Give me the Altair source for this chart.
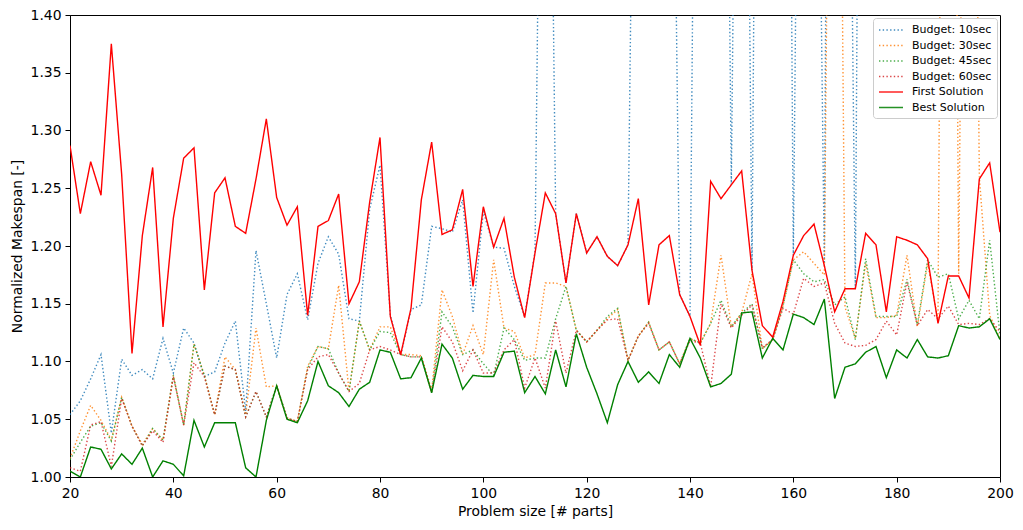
import altair as alt
import pandas as pd

sizes = list(range(20, 201, 2))

budget_10 = [
    1.054, 1.066, 1.085, 1.106, 1.038, 1.102, 1.088, 1.093, 1.085, 1.120,
    1.090, 1.129, 1.116, 1.087, 1.091, 1.116, 1.135, 1.057, 1.196, 1.150,
    1.103, 1.158, 1.176, 1.136, 1.185, 1.208, 1.193, 1.137, 1.135, 1.232,
    1.270, 1.140, 1.105, 1.145, 1.149, 1.217, 1.215, 1.212, 1.240, 1.142,
    1.230, 1.199, 1.198, 1.165, 1.139, 1.195, 2.000, 1.228, 1.168, 1.228,
    1.194, 1.208, 1.191, 1.183, 1.201, 1.970, 2.300, 2.300, 1.910, 1.158,
    1.139, 2.200, 2.400, 2.170, 1.253, 2.170, 1.179, 2.500, 2.600, 2.500,
    1.192, 2.140, 1.930, 1.183, 2.900, 2.000, 1.163, 2.600, 2.500, 2.700,
    2.500, 2.300, 2.600, 2.800, 2.400, 2.500, 2.700, 2.600, 2.400, 2.500,
    2.600,
]
budget_30 = [
    1.016, 1.040, 1.062, 1.049, 1.032, 1.069, 1.044, 1.028, 1.042, 1.032,
    1.088, 1.045, 1.115, 1.088, 1.054, 1.104, 1.093, 1.054, 1.129, 1.078,
    1.079, 1.051, 1.048, 1.096, 1.113, 1.111, 1.166, 1.074, 1.135, 1.110,
    1.130, 1.130, 1.106, 1.106, 1.105, 1.075, 1.162, 1.139, 1.106, 1.131,
    1.106, 1.188, 1.129, 1.126, 1.103, 1.106, 1.168, 1.168, 1.165, 1.127,
    1.117, 1.127, 1.137, 1.145, 1.101, 1.122, 1.134, 1.110, 1.117, 1.098,
    1.120, 1.116, 1.133, 1.192, 1.130, 1.142, 1.176, 1.111, 1.119, 1.148,
    1.188, 1.195, 1.185, 1.175, 2.200, 1.147, 1.120, 1.185, 1.138, 1.138,
    1.140, 1.192, 1.130, 1.185, 1.136, 2.600, 1.176, 2.200, 1.260, 1.140,
    1.120,
]
budget_45 = [
    1.015, 1.030, 1.044, 1.047, 1.031, 1.069, 1.044, 1.027, 1.042, 1.032,
    1.088, 1.045, 1.115, 1.088, 1.054, 1.096, 1.093, 1.052, 1.074, 1.052,
    1.079, 1.051, 1.048, 1.094, 1.113, 1.111, 1.090, 1.074, 1.135, 1.110,
    1.126, 1.125, 1.106, 1.104, 1.104, 1.073, 1.143, 1.130, 1.106, 1.110,
    1.098, 1.088, 1.129, 1.119, 1.101, 1.103, 1.103, 1.137, 1.165, 1.127,
    1.117, 1.127, 1.139, 1.146, 1.101, 1.122, 1.134, 1.110, 1.117, 1.098,
    1.120, 1.116, 1.133, 1.153, 1.130, 1.142, 1.150, 1.111, 1.119, 1.148,
    1.188, 1.176, 1.169, 1.171, 1.149, 1.156, 1.119, 1.189, 1.139, 1.139,
    1.139, 1.171, 1.132, 1.188, 1.173, 1.176, 1.137, 1.153, 1.137, 1.205,
    1.123,
]
budget_60 = [
    1.008, 1.005, 1.045, 1.048, 1.009, 1.068, 1.044, 1.027, 1.040, 1.030,
    1.087, 1.045, 1.099, 1.087, 1.054, 1.096, 1.093, 1.052, 1.074, 1.052,
    1.079, 1.051, 1.048, 1.093, 1.104, 1.106, 1.090, 1.074, 1.081, 1.110,
    1.113, 1.110, 1.106, 1.104, 1.104, 1.073, 1.130, 1.117, 1.092, 1.110,
    1.090, 1.090, 1.110, 1.119, 1.077, 1.103, 1.077, 1.135, 1.090, 1.127,
    1.117, 1.127, 1.136, 1.137, 1.101, 1.122, 1.133, 1.110, 1.117, 1.098,
    1.118, 1.116, 1.078, 1.150, 1.129, 1.140, 1.149, 1.112, 1.119, 1.146,
    1.141, 1.172, 1.165, 1.168, 1.133, 1.116, 1.113, 1.114, 1.119, 1.135,
    1.123, 1.169, 1.131, 1.145, 1.137, 1.148, 1.132, 1.133, 1.132, 1.137,
    1.126,
]
first_solution = [
    1.287, 1.228, 1.273, 1.244, 1.375, 1.262, 1.107, 1.209, 1.268, 1.130,
    1.224, 1.276, 1.285, 1.162, 1.246, 1.259, 1.217, 1.211, 1.258, 1.310,
    1.242, 1.218, 1.234, 1.140, 1.217, 1.222, 1.245, 1.150, 1.169, 1.238,
    1.294, 1.139, 1.106, 1.146, 1.240, 1.290, 1.210, 1.214, 1.249, 1.165,
    1.234, 1.199, 1.224, 1.173, 1.138, 1.194, 1.246, 1.228, 1.168, 1.228,
    1.194, 1.208, 1.191, 1.183, 1.201, 1.241, 1.149, 1.201, 1.209, 1.158,
    1.139, 1.114, 1.256, 1.241, 1.253, 1.265, 1.179, 1.131, 1.121, 1.152,
    1.192, 1.209, 1.219, 1.183, 1.143, 1.163, 1.163, 1.211, 1.201, 1.143,
    1.208, 1.205, 1.201, 1.189, 1.133, 1.174, 1.174, 1.155, 1.258, 1.272,
    1.212,
]
best_solution = [
    1.005, 1.000, 1.026, 1.024, 1.007, 1.020, 1.011, 1.025, 1.000, 1.014,
    1.011, 1.001, 1.049, 1.026, 1.047, 1.047, 1.047, 1.008, 1.000, 1.049,
    1.079, 1.050, 1.047, 1.066, 1.100, 1.079, 1.073, 1.061, 1.076, 1.082,
    1.110, 1.108, 1.085, 1.086, 1.103, 1.073, 1.115, 1.103, 1.076, 1.088,
    1.087, 1.087, 1.108, 1.109, 1.073, 1.087, 1.072, 1.110, 1.078, 1.124,
    1.095, 1.072, 1.047, 1.080, 1.100, 1.082, 1.091, 1.081, 1.106, 1.095,
    1.120, 1.103, 1.078, 1.081, 1.089, 1.142, 1.143, 1.103, 1.120, 1.110,
    1.141, 1.138, 1.132, 1.154, 1.068, 1.095, 1.098, 1.108, 1.113, 1.086,
    1.110, 1.103, 1.119, 1.104, 1.103, 1.105, 1.131, 1.129, 1.130, 1.137,
    1.119,
]

series_names = ["Budget: 10sec", "Budget: 30sec", "Budget: 45sec", "Budget: 60sec",
                "First Solution", "Best Solution"]
series_values = [budget_10, budget_30, budget_45, budget_60, first_solution, best_solution]
series_colors = ["#1f77b4", "#ff7f0e", "#2ca02c", "#d62728", "#ff0000", "#008000"]
series_dash = [[1.4, 2.3], [1.4, 2.3], [1.4, 2.3], [1.4, 2.3], [1, 0], [1, 0]]
series_width = [1.4, 1.4, 1.4, 1.4, 2.0, 2.0]

rows = []
for name, vals in zip(series_names, series_values):
    for x, v in zip(sizes, vals):
        rows.append({"size": x, "value": v, "series": name})
df = pd.DataFrame(rows)

font = "DejaVu Sans"

x_enc = alt.X(
    "size:Q",
    scale=alt.Scale(domain=[20, 200], nice=False, zero=False),
    axis=alt.Axis(values=list(range(20, 201, 20)), title="Problem size [# parts]",
                  labelFlush=False, labelOverlap=False, titlePadding=5),
)
y_enc = alt.Y(
    "value:Q",
    scale=alt.Scale(domain=[1.0, 1.4], nice=False, zero=False),
    axis=alt.Axis(values=[1.0, 1.05, 1.1, 1.15, 1.2, 1.25, 1.3, 1.35, 1.4], format=".2f",
                  title="Normalized Makespan [-]", labelFlush=False, labelOverlap=False,
                  titlePadding=6),
)
legend = alt.Legend(
    title=None, orient="top-right", offset=3, fillColor="white", strokeColor="#cccccc",
    cornerRadius=3, padding=5, labelFontSize=11, labelFont=font, labelColor="black",
    symbolType="M-1,0H3", symbolSize=144, rowPadding=3.5, labelOffset=20,
    symbolFillColor="transparent",
)
color_enc = alt.Color("series:N", scale=alt.Scale(domain=series_names, range=series_colors),
                      legend=legend)
dash_enc = alt.StrokeDash("series:N", scale=alt.Scale(domain=series_names, range=series_dash),
                          legend=legend)
width_enc = alt.StrokeWidth("series:N", scale=alt.Scale(domain=series_names, range=series_width),
                            legend=legend)

base = alt.Chart(df).encode(x=x_enc, y=y_enc, color=color_enc, strokeDash=dash_enc,
                            strokeWidth=width_enc)

dotted = base.transform_filter(
    alt.FieldOneOfPredicate(field="series", oneOf=series_names[:4])
).mark_line(clip=True, opacity=0.85)
solid = base.transform_filter(
    alt.FieldOneOfPredicate(field="series", oneOf=series_names[4:])
).mark_line(clip=True)

chart = alt.layer(dotted, solid).properties(
    width=930, height=462,
    autosize=alt.AutoSizeParams(type="none"),
    padding={"left": 70, "top": 15, "right": 23, "bottom": 53},
).configure_view(
    stroke="black", strokeWidth=1
).configure_axis(
    domainColor="black", tickColor="black", labelColor="black", titleColor="black",
    labelFont=font, titleFont=font, labelFontSize=13.9, titleFontSize=13.9,
    titleFontWeight="normal", tickSize=5, labelPadding=4, grid=False,
)

chart.save("out.html", embed_options={"renderer": "svg", "actions": False})
